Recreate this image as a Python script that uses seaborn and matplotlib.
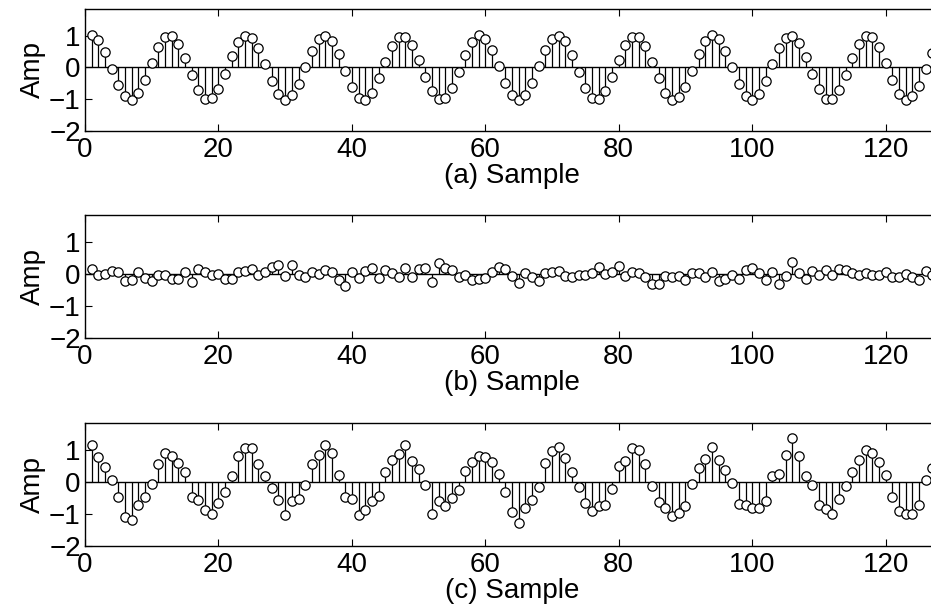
import numpy as np
import pandas as pd
import matplotlib
matplotlib.use("Agg")
import matplotlib.pyplot as plt
import seaborn as sns

samples = list(range(1, 128))

signal_a = [1.01, 0.87, 0.48, -0.04, -0.56, -0.90, -1.01, -0.81, -0.38, 0.14,
            0.64, 0.95, 0.99, 0.74, 0.29, -0.24, -0.72, -0.99, -0.97, -0.68,
            -0.20, 0.35, 0.79, 1.00, 0.94, 0.60, 0.10, -0.44, -0.84, -1.01,
            -0.88, -0.51, 0.00, 0.52, 0.89, 1.00, 0.83, 0.43, -0.11, -0.61,
            -0.95, -1.02, -0.80, -0.34, 0.17, 0.67, 0.96, 0.97, 0.71, 0.24,
            -0.29, -0.74, -1.00, -0.95, -0.64, -0.15, 0.38, 0.81, 1.01, 0.90,
            0.56, 0.05, -0.48, -0.87, -1.02, -0.86, -0.48, 0.04, 0.56, 0.90,
            1.00, 0.82, 0.38, -0.15, -0.64, -0.96, -1.00, -0.74, -0.29, 0.24,
            0.71, 0.97, 0.96, 0.67, 0.18, -0.34, -0.79, -1.01, -0.94, -0.61,
            -0.10, 0.43, 0.84, 1.01, 0.89, 0.52, 0.00, -0.53, -0.89, -1.02,
            -0.84, -0.44, 0.10, 0.60, 0.94, 0.99, 0.77, 0.33, -0.20, -0.68,
            -0.98, -0.99, -0.72, -0.23, 0.30, 0.74, 0.99, 0.95, 0.64, 0.14,
            -0.39, -0.82, -1.02, -0.90, -0.57, -0.04, 0.47]

signal_b = [0.16, -0.04, -0.01, 0.10, 0.07, -0.22, -0.20, 0.07, -0.12, -0.22,
            -0.04, -0.04, -0.16, -0.16, 0.05, -0.24, 0.16, 0.07, -0.03, 0.00,
            -0.15, -0.16, 0.05, 0.10, 0.15, -0.03, 0.06, 0.23, 0.28, -0.05,
            0.29, -0.03, -0.10, 0.06, -0.01, 0.12, 0.06, -0.20, -0.37, 0.05,
            -0.14, 0.09, 0.18, -0.12, 0.11, 0.02, -0.08, 0.19, -0.08, 0.14,
            0.18, -0.26, 0.35, 0.17, 0.11, -0.10, -0.04, -0.18, -0.17, -0.12,
            0.06, 0.22, 0.16, -0.06, -0.27, 0.02, -0.10, -0.23, 0.04, 0.06,
            0.09, -0.05, -0.08, -0.03, -0.03, 0.02, 0.21, 0.00, 0.07, 0.25,
            -0.06, 0.07, 0.02, -0.11, -0.32, -0.31, -0.06, -0.10, -0.05, -0.20,
            0.03, 0.02, -0.10, 0.07, -0.21, -0.15, -0.04, -0.17, 0.12, 0.18,
            0.02, -0.18, 0.06, -0.32, -0.06, 0.38, 0.02, -0.16, 0.08, -0.03,
            0.11, -0.04, 0.16, 0.11, 0.03, -0.03, 0.03, -0.03, -0.02, 0.07,
            -0.10, -0.10, -0.01, -0.09, -0.19, 0.10, -0.04]

signal_c = [1.15, 0.79, 0.46, 0.05, -0.48, -1.10, -1.19, -0.73, -0.48, -0.07,
            0.57, 0.89, 0.82, 0.59, 0.31, -0.47, -0.55, -0.89, -0.99, -0.67,
            -0.30, 0.20, 0.80, 1.07, 1.07, 0.56, 0.18, -0.18, -0.55, -1.03,
            -0.59, -0.53, -0.08, 0.57, 0.85, 1.14, 0.90, 0.22, -0.47, -0.53,
            -1.04, -0.88, -0.58, -0.45, 0.31, 0.68, 0.88, 1.16, 0.64, 0.40,
            -0.09, -1.00, -0.60, -0.75, -0.50, -0.24, 0.33, 0.62, 0.81, 0.78,
            0.62, 0.26, -0.30, -0.93, -1.27, -0.82, -0.56, -0.17, 0.59, 0.97,
            1.08, 0.75, 0.31, -0.17, -0.66, -0.92, -0.76, -0.72, -0.21, 0.50,
            0.66, 1.05, 0.99, 0.55, -0.13, -0.64, -0.81, -1.06, -0.97, -0.76,
            -0.07, 0.45, 0.73, 1.08, 0.67, 0.38, -0.04, -0.68, -0.72, -0.82,
            -0.80, -0.60, 0.18, 0.26, 0.84, 1.38, 0.81, 0.18, -0.08, -0.71,
            -0.83, -1.01, -0.54, -0.13, 0.31, 0.70, 1.01, 0.91, 0.61, 0.22,
            -0.47, -0.91, -0.99, -0.99, -0.73, 0.05, 0.42]

panel_labels = ["(a) Sample", "(b) Sample", "(c) Sample"]
x_ticks = [0, 20, 40, 60, 80, 100, 120]
y_ticks = [-2, -1, 0, 1]

sns.set_theme(style="ticks")
plt.rcParams["font.family"] = ["Liberation Sans", "DejaVu Sans"]
plt.rcParams["text.color"] = "black"
plt.rcParams["axes.labelcolor"] = "black"

fig = plt.figure(figsize=(9.31, 6.12), dpi=100)
W, H = 931.0, 612.0
left_px, right_px = 85.0, 939.0
panels_px = [(9.0, 131.0), (215.0, 338.0), (423.0, 546.0)]
FS = 20

series = [signal_a, signal_b, signal_c]
for (top, bot), vals, lab in zip(panels_px, series, panel_labels):
    ax = fig.add_axes([left_px / W, 1 - bot / H, (right_px - left_px) / W, (bot - top) / H])
    df = pd.DataFrame({"Sample": samples, "Amp": vals})
    ax.axhline(0, color="black", linewidth=1.0, zorder=1)
    ax.vlines(df["Sample"], 0, df["Amp"], color="black", linewidth=0.9, zorder=2)
    sns.scatterplot(data=df, x="Sample", y="Amp", ax=ax, marker="o", s=45,
                    facecolor="white", edgecolor="black", linewidth=0.9, zorder=3)
    ax.set_xlim(0, 128)
    ax.set_ylim(-2, 1.84)
    ax.set_xticks(x_ticks)
    ax.set_yticks(y_ticks)
    ax.set_xticklabels([str(t) for t in x_ticks])
    ax.set_yticklabels(["\u22122", "\u22121", "0", "1"])
    ax.tick_params(axis="both", which="both", direction="in", length=5, width=0.8,
                   top=True, right=True, labelsize=FS, colors="black", labelcolor="black")
    ax.tick_params(axis="x", pad=4)
    ax.tick_params(axis="y", pad=3)
    for sp in ax.spines.values():
        sp.set_visible(True)
        sp.set_linewidth(1.0)
        sp.set_color("black")
    ax.set_xlabel(lab, fontsize=FS, labelpad=0, color="black")
    ax.set_ylabel("Amp", fontsize=FS, labelpad=2, color="black")
    ax.set_facecolor("white")

fig.savefig("out.png", dpi=100, facecolor="white")
